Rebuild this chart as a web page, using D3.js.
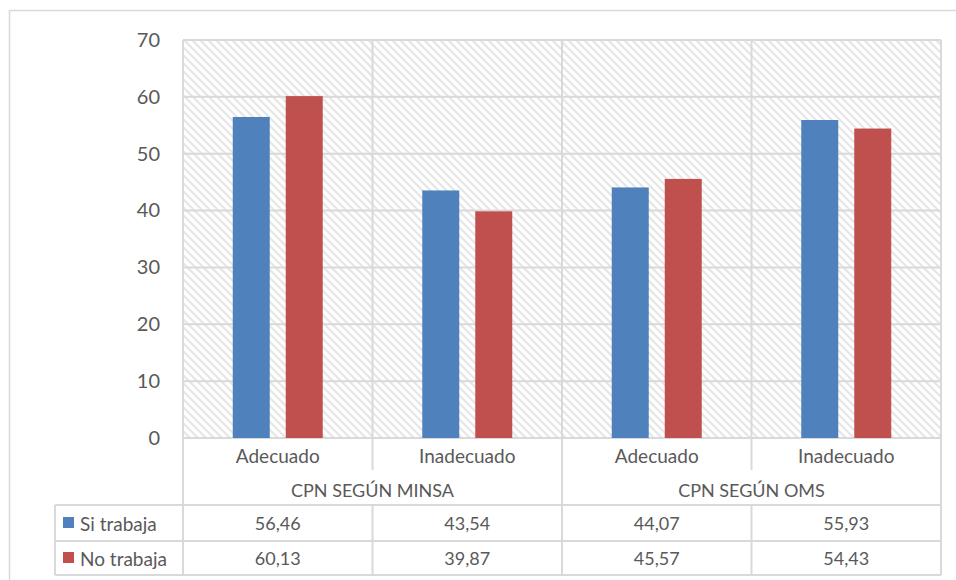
<!DOCTYPE html>
<html>
<head>
<meta charset="utf-8">
<script src="https://cdn.jsdelivr.net/npm/d3@7"></script>
<style>
  html, body { margin: 0; padding: 0; background: #fff; }
  svg { display: block; }
  text { font-family: Lato, "Noto Sans", sans-serif; fill: #595959; }
</style>
</head>
<body>
<svg id="chart" width="956" height="580"></svg>
<script>
// Control prenatal (CPN) según situación laboral
const groups = ["CPN SEGÚN MINSA", "CPN SEGÚN OMS"];
const categories = ["Adecuado", "Inadecuado", "Adecuado", "Inadecuado"];
const categoryGroup = [0, 0, 1, 1];
const series = ["Si trabaja", "No trabaja"];
const siTrabaja = [56.46, 43.54, 44.07, 55.93];
const noTrabaja = [60.13, 39.87, 45.57, 54.43];
const yTicks = [0, 10, 20, 30, 40, 50, 60, 70];
const colors = ["#4f81bd", "#c0504d"];

const seriesValues = [siTrabaja, noTrabaja];
const fmt = v => v.toFixed(2).replace(".", ",");

const svg = d3.select("#chart");
const grid = "#d9d9d9";

const plot = { left: 183, right: 941, top: 40, bottom: 438 };
const rows = { catBottom: 470, groupBottom: 505, row1Bottom: 541, row2Bottom: 575, legendLeft: 55 };

const idx = categories.map((_, i) => i);
const x = d3.scaleBand().domain(idx).range([plot.left, plot.right]).padding(0);
const xs = d3.scaleBand().domain([0, 1]).range([0, x.bandwidth()])
  .paddingInner(0.302).paddingOuter(0.939);
const y = d3.scaleLinear().domain([0, 70]).range([plot.bottom, plot.top]);

// diagonal hatch for the plot background
const defs = svg.append("defs");
const pat = defs.append("pattern").attr("id", "hatch")
  .attr("patternUnits", "userSpaceOnUse").attr("width", 8).attr("height", 8);
pat.append("rect").attr("width", 8).attr("height", 8).attr("fill", "#fff");
pat.append("path").attr("d", "M-2,-2L10,10M-2,6L2,10M6,-2L10,2")
  .attr("stroke", "#e6e6e6").attr("stroke-width", 2.2);

// outer chart frame (top and left edges visible)
svg.append("path").attr("d", "M9.5,580V10.5H956")
  .attr("fill", "none").attr("stroke", grid).attr("stroke-width", 1.5);

svg.append("rect")
  .attr("x", plot.left).attr("y", plot.top)
  .attr("width", plot.right - plot.left).attr("height", plot.bottom - plot.top)
  .attr("fill", "url(#hatch)");

// horizontal gridlines
svg.append("g").selectAll("line").data(yTicks).join("line")
  .attr("x1", plot.left).attr("x2", plot.right)
  .attr("y1", d => y(d)).attr("y2", d => y(d))
  .attr("stroke", grid).attr("stroke-width", 2);

// category separators through the plot
const bounds = idx.map(i => x(i)).concat([plot.right]);
svg.append("g").selectAll("line").data(bounds).join("line")
  .attr("x1", d => d).attr("x2", d => d)
  .attr("y1", plot.top).attr("y2", plot.bottom)
  .attr("stroke", grid).attr("stroke-width", 2);

// bars
series.forEach((s, si) => {
  svg.append("g").selectAll("rect").data(seriesValues[si]).join("rect")
    .attr("x", (d, i) => x(i) + xs(si))
    .attr("y", d => y(d))
    .attr("width", xs.bandwidth())
    .attr("height", d => y(0) - y(d))
    .attr("fill", colors[si]);
});

// y axis
const yAxis = svg.append("g").attr("transform", `translate(${plot.left},0)`)
  .call(d3.axisLeft(y).tickValues(yTicks).tickSize(0).tickPadding(23));
yAxis.select(".domain").remove();
yAxis.selectAll("text").style("font-family", "Lato, sans-serif")
  .style("font-size", "20px").attr("fill", "#595959");

// data table below the axis
const tbl = svg.append("g");
const line = (x1, y1, x2, y2) => tbl.append("line")
  .attr("x1", x1).attr("y1", y1).attr("x2", x2).attr("y2", y2)
  .attr("stroke", grid).attr("stroke-width", 2);

// inner category dividers (within groups)
idx.forEach(i => {
  if (i > 0 && categoryGroup[i] === categoryGroup[i - 1]) line(x(i), plot.bottom, x(i), rows.catBottom);
});
// group dividers
groups.forEach((g, gi) => {
  const first = categoryGroup.indexOf(gi);
  line(x(first), plot.bottom, x(first), rows.row2Bottom);
});
line(plot.right, plot.bottom, plot.right, rows.row2Bottom);
// data row cell dividers
idx.forEach(i => line(x(i), rows.groupBottom, x(i), rows.row2Bottom));
line(rows.legendLeft, rows.groupBottom, rows.legendLeft, rows.row2Bottom);
[rows.groupBottom, rows.row1Bottom, rows.row2Bottom].forEach(yy => line(rows.legendLeft, yy, plot.right, yy));

// category labels
tbl.append("g").selectAll("text").data(categories).join("text")
  .attr("x", (d, i) => x(i) + x.bandwidth() / 2).attr("y", 455)
  .attr("text-anchor", "middle").attr("dominant-baseline", "central")
  .style("font-size", "19px").text(d => d);

// group labels
tbl.append("g").selectAll("text").data(groups).join("text")
  .attr("x", (d, gi) => {
    const members = idx.filter(i => categoryGroup[i] === gi);
    return (x(members[0]) + x(members[members.length - 1]) + x.bandwidth()) / 2;
  })
  .attr("y", 490)
  .attr("text-anchor", "middle").attr("dominant-baseline", "central")
  .style("font-size", "18px").text(d => d);

// value rows with legend keys
const rowCenters = [523, 558];
series.forEach((s, si) => {
  tbl.append("rect").attr("x", 63).attr("y", rowCenters[si] - 6)
    .attr("width", 11).attr("height", 11).attr("fill", colors[si]);
  tbl.append("text").attr("x", 80).attr("y", rowCenters[si])
    .attr("dominant-baseline", "central").style("font-size", "19px").text(s);
  tbl.append("g").selectAll("text").data(seriesValues[si]).join("text")
    .attr("x", (d, i) => x(i) + x.bandwidth() / 2).attr("y", rowCenters[si])
    .attr("text-anchor", "middle").attr("dominant-baseline", "central")
    .style("font-size", "18px").text(d => fmt(d));
});
</script>
</body>
</html>
